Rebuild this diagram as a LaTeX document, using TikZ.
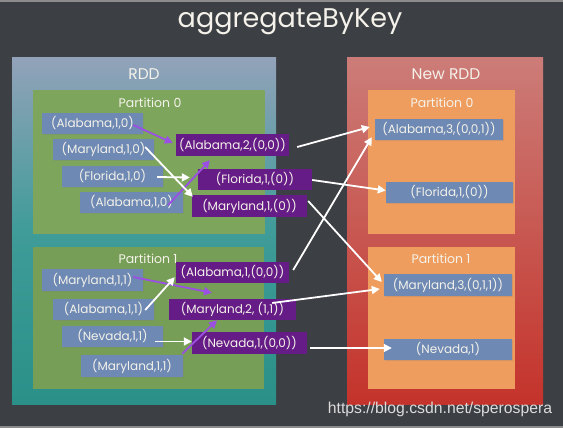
\documentclass[tikz,border=0pt]{standalone}
\usepackage{fontspec}
\setmainfont{Poppins}
\setsansfont{Liberation Sans}
\usetikzlibrary{arrows.meta,calc,shadows}

\definecolor{board}{HTML}{3C3F43}
\definecolor{boardedge}{HTML}{8C8C8C}
\definecolor{rddtop}{HTML}{92A2BA}
\definecolor{rddmid}{HTML}{3F9C98}
\definecolor{rddbot}{HTML}{2A9088}
\definecolor{newtop}{HTML}{CC7C78}
\definecolor{newbot}{HTML}{C4332B}
\definecolor{partgreen}{HTML}{7DA65C}
\definecolor{partorange}{HTML}{EF9D5E}
\definecolor{itemblue}{HTML}{6E89B3}
\definecolor{itempurple}{HTML}{661C86}
\definecolor{flowpurple}{HTML}{9B4FE3}
\definecolor{chalk}{HTML}{F4F2EA}

\tikzset{
  item/.style={fill=itemblue, text=chalk, inner sep=0pt, minimum height=21pt,
    font=\fontsize{12}{14}\selectfont,
    drop shadow={opacity=0.25, shadow xshift=1pt, shadow yshift=-1pt}},
  merged/.style={fill=itempurple, text=chalk, inner sep=0pt, minimum height=21pt,
    font=\fontsize{12}{14}\selectfont},
  label/.style={text=chalk, font=\fontsize{12.5}{14}\selectfont},
  boxlabel/.style={text=chalk, font=\fontsize{15.5}{18}\selectfont},
  localflow/.style={draw=flowpurple, line width=1.8pt,
    -{Triangle[length=8pt,width=8pt]}},
  shuffle/.style={draw=white, line width=1.8pt,
    -{Triangle[length=8pt,width=8pt]}}
}

\begin{document}
\begin{tikzpicture}[x=1pt,y=-1pt]
  % chalkboard
  \fill[board] (0,0) rectangle (563,428);
  \fill[boardedge] (0,0) rectangle (563,2);
  \fill[boardedge] (0,426) rectangle (563,428);
  \useasboundingbox (0,0) rectangle (563,428);

  \node[text=chalk, font=\fontsize{27}{30}\selectfont] (title) at (290,22) {aggregateByKey};

  % source RDD and target RDD panels
  \shade[top color=rddtop, bottom color=rddbot, middle color=rddmid] (12,58) rectangle (276,404);
  \shade[top color=newtop, bottom color=newbot] (347,58) rectangle (543,404);
  \node[boxlabel] (rddlabel) at (144,74) {RDD};
  \node[boxlabel] (newlabel) at (446,74) {New RDD};

  % partitions
  \fill[partgreen] (33,90) rectangle (265,234);
  \fill[partgreen!95!black] (33,247) rectangle (264,389);
  \fill[partorange] (368,90) rectangle (515,234);
  \fill[partorange] (368,247) rectangle (515,389);
  \node[label] (lp0) at (150,103) {Partition 0};
  \node[label] (lp1) at (148,259) {Partition 1};
  \node[label] (rp0) at (442,103) {Partition 0};
  \node[label] (rp1) at (441,259) {Partition 1};

  % partition 0 input records
  \node[item, minimum width=101pt] (a1) at (92.5,123.5) {(Alabama,1,0)};
  \node[item, minimum width=101pt] (m1) at (103.5,149.5) {(Maryland,1,0)};
  \node[item, minimum width=101pt] (f1) at (112.5,176.5) {(Florida,1,0)};
  \node[item, minimum width=103pt] (a2) at (131.5,202.5) {(Alabama,1,0)};

  % partition 1 input records
  \node[item, minimum width=101pt, minimum height=22pt] (b1) at (92.5,280) {(Maryland,1,1)};
  \node[item, minimum width=101pt] (b2) at (103.5,309.5) {(Alabama,1,1)};
  \node[item, minimum width=101pt] (b3) at (112.5,336.5) {(Nevada,1,1)};
  \node[item, minimum width=102pt, minimum height=22pt] (b4) at (132,366) {(Maryland,1,1)};

  % per-partition aggregates
  \node[merged, minimum width=113pt, minimum height=22pt] (pa) at (232.5,145) {(Alabama,2,(0,0))};
  \node[merged, minimum width=114pt] (pf) at (255,179.5) {(Florida,1,(0))};
  \node[merged, minimum width=115pt, minimum height=22pt] (pm) at (249.5,206) {(Maryland,1,(0))};
  \node[merged, minimum width=113pt] (qa) at (232.5,272.5) {(Alabama,1,(0,0))};
  \node[merged, minimum width=127pt] (qm) at (232.5,309.5) {(Maryland,2, (1,1))};
  \node[merged, minimum width=115pt, minimum height=22pt] (qn) at (249.5,343) {(Nevada,1,(0,0))};

  % combined results
  \node[item, minimum width=128pt] (na) at (439,129.5) {(Alabama,3,(0,0,1))};
  \node[item, minimum width=127pt] (nf) at (449.5,192.5) {(Florida,1,(0))};
  \node[item, minimum width=128pt, minimum height=22pt] (nm) at (448,285) {(Maryland,3,(0,1,1))};
  \node[item, minimum width=128pt] (nn) at (448,349.5) {(Nevada,1)};

  % combining inside partition 0
  \draw[localflow] ($(a1.east)+(-10,1.5)$) -- ($(pa.west)+(-3,-2)$);
  \draw[localflow] ($(a2.east)+(-15,2.5)$) -- ($(pa.south)+(-22.5,4)$);
  \draw[shuffle] ($(m1.east)+(-9,-2.5)$) -- ($(pm.north west)+(1,2)$);
  \draw[shuffle] ($(f1.east)+(-6,0.5)$) -- ($(pf.west)+(-8,-2)$);

  % combining inside partition 1
  \draw[localflow] ($(b1.east)+(-10,-3)$) -- ($(qm.north)+(-20.5,-6)$);
  \draw[shuffle] ($(b2.east)+(-9,0.5)$) -- ($(qa.south west)+(-1,-6)$);
  \draw[shuffle] ($(b3.east)+(-8,5)$) -- ($(qn.west)+(0,-1.5)$);
  \draw[localflow] ($(b4.north east)+(-1,-1)$) -- ($(qm.south)+(-15.5,0)$);

  % merging across partitions
  \draw[shuffle] ($(pa.east)+(8,2)$) -- ($(na.west)+(-5,-2.5)$);
  \draw[shuffle] ($(pf.east)+(0,0.5)$) -- ($(nf.west)+(0,-2)$);
  \draw[shuffle] ($(pm.east)+(1,-5)$) -- ($(nm.west)+(-2,-3)$);
  \draw[shuffle] ($(qa.east)+(4,-2.5)$) -- ($(na.south west)+(-3,-3)$);
  \draw[shuffle] ($(qm.east)+(-24,-6.5)$) -- ($(nm.west)+(-4,4)$);
  \draw[shuffle] ($(qn.east)+(3,5)$) -- ($(nn.west)+(8,-1.5)$);

  % source link
  \node[text=white!82!board, font=\sffamily\fontsize{15.75}{18}\selectfont] (src) at (440,409) {https://blog.csdn.net/sperospera};
\end{tikzpicture}
\end{document}
